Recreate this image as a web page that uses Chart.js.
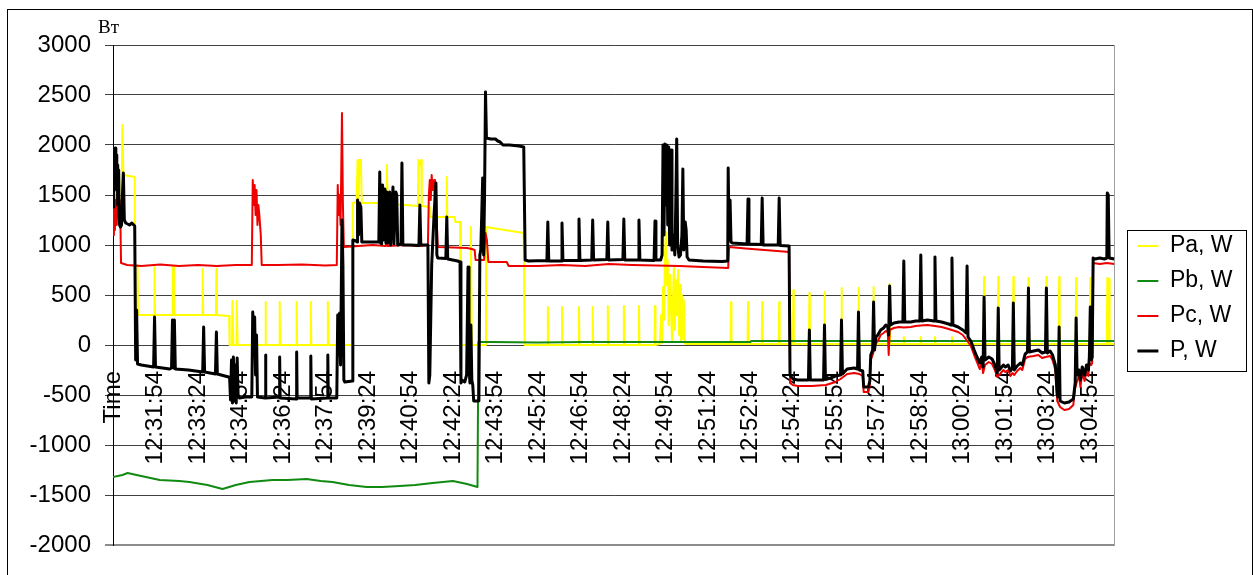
<!DOCTYPE html>
<html>
<head>
<meta charset="utf-8">
<script src="https://cdn.jsdelivr.net/npm/chart.js@4.4.1/dist/chart.umd.min.js"></script>
<style>
  body { margin: 0; background: #fff; }
  #wrap { position: relative; width: 1253px; height: 575px; }
  #frame { position: absolute; left: 7px; top: 9px; width: 1244px; height: 600px; border: 1px solid #000; pointer-events: none; }
  canvas { display: block; }
</style>
</head>
<body>
<div id="wrap">
  <canvas id="myChart" width="1253" height="575"></canvas>
  <div id="frame"></div>
</div>
<script>
// time axis: seconds after 12:30:24 ("Time" header sits at 0), one label every 90 s
const tickLabels = ['Time', '12:31:54', '12:33:24', '12:34:54', '12:36:24', '12:37:54', '12:39:24', '12:40:54',
  '12:42:24', '12:43:54', '12:45:24', '12:46:54', '12:48:24', '12:49:54', '12:51:24', '12:52:54',
  '12:54:24', '12:55:54', '12:57:24', '12:58:54', '13:00:24', '13:01:54', '13:03:24', '13:04:54'];
const tickStep = 90;
const xEnd = 2121;

const seriesNames = ['Pa, W', 'Pb, W', 'Pc, W', 'P, W'];

// [seconds, W]
const paPts = [
  [0,1200],[5,1500],[12,1250],[18,1400],[20,2200],[22,1700],[46,1680],[47,300],[51,300],[52,800],[53,300],
  [87,300],[88,780],[89,300],[125,300],[126,790],[127,300],[129,790],[130,300],
  [189,300],[190,760],[191,300],[218,300],[219,760],[220,300],[246,290],[247,0],
  [252,0],[253,440],[255,0],[261,0],[262,440],[264,0],
  [322,0],[323,430],[324,0],[352,0],[353,430],[354,0],[388,0],[389,430],[390,0],
  [418,0],[419,430],[420,0],[454,0],[455,430],[456,0],[507,0],
  [508,1420],[516,1430],[518,1850],[520,1450],[522,1850],[525,1850],[527,1420],
  [560,1420],[579,1410],[580,1800],[582,1410],[620,1400],[646,1390],[647,1850],[650,1800],[653,1850],[654,1390],
  [670,1380],[671,1280],[706,1280],[707,1680],[708,1280],[724,1280],[725,1230],[735,1230],[737,0],
  [757,0],[758,1180],[760,0],[789,0],[790,1180],[830,1150],[870,1120],[872,0],
  [920,0],[921,380],[922,0],[950,0],[951,380],[952,0],[986,0],[987,380],[988,0],[1015,0],[1016,380],[1017,0],
  [1047,0],[1048,390],[1049,0],[1081,0],[1082,390],[1083,0],[1113,0],[1114,390],[1115,0],[1147,0],[1148,390],[1149,0],
  [1158,10],[1161,300],[1163,20],[1165,580],[1167,250],[1169,900],[1171,1130],[1173,600],[1175,850],[1177,200],
  [1180,700],[1182,350],[1184,50],[1186,450],[1188,780],[1190,150],[1192,650],[1194,300],[1197,750],[1199,100],
  [1201,600],[1203,40],[1205,500],[1207,60],[1209,450],[1211,20],[1213,10],
  [1308,10],[1309,430],[1310,10],[1344,10],[1345,430],[1346,10],[1374,10],[1375,430],[1376,10],[1410,10],[1411,430],[1412,10],
  [1440,10],[1441,550],[1442,10],[1474,10],[1475,520],[1476,10],[1506,10],[1507,530],[1508,10],[1542,10],[1543,570],[1544,10],
  [1578,10],[1579,570],[1580,10],[1610,10],[1611,580],[1612,10],[1644,10],[1645,610],[1646,10],
  [1674,10],[1675,80],[1676,10],[1710,10],[1711,80],[1712,10],[1740,10],[1741,80],[1742,10],[1776,10],[1777,80],[1778,10],
  [1844,10],[1845,680],[1846,10],[1874,10],[1875,680],[1876,10],[1906,10],[1907,680],[1908,10],[1938,10],[1939,670],[1940,10],
  [1976,10],[1977,680],[1978,10],[2003,10],[2004,680],[2005,10],[2039,10],[2040,670],[2041,10],[2069,10],[2070,670],[2071,10],
  [2105,10],[2106,670],[2107,10],[2109,10],[2110,660],[2111,10],[2121,10]
];

const pbPts = [
  [0,-1320],[20,-1300],[31,-1280],[50,-1300],[99,-1350],[140,-1360],[162,-1370],[200,-1400],[232,-1440],
  [260,-1400],[289,-1370],[338,-1350],[370,-1350],[410,-1340],[440,-1360],[465,-1370],[500,-1400],
  [537,-1420],[570,-1420],[607,-1410],[640,-1400],[677,-1380],[720,-1360],[750,-1390],[772,-1420],
  [774,30],[800,30],[900,25],[1000,30],[1100,30],[1200,30],[1350,30],[1352,40],[1500,40],[1700,40],[1900,40],[2121,40]
];

const pcPts = [
  [0,1100],[2,1500],[4,1150],[6,1450],[8,1200],[10,1550],[12,1300],[14,1450],[16,1150],[17,820],
  [30,800],[60,790],[100,805],[140,790],[180,800],[220,790],[260,800],[294,800],
  [296,1650],[298,1400],[300,1600],[302,1300],[304,1550],[306,1200],[308,1400],[310,1300],[313,1100],[315,800],
  [350,800],[400,805],[450,795],[474,800],[476,1600],[478,1300],[480,1500],[482,1200],[485,2320],[487,1400],[489,980],
  [520,990],[550,1000],[578,990],[580,1180],[582,990],[620,1000],[650,990],[667,1000],
  [669,1500],[671,1650],[673,1450],[675,1700],[677,1550],[680,1650],[682,1400],[684,1600],[686,1200],[688,980],
  [720,975],[750,970],[760,960],[766,950],[768,850],[786,850],[789,1120],[792,1050],[795,830],
  [834,830],[838,790],[900,790],[950,800],[1000,790],[1050,810],[1100,800],[1150,795],[1200,790],[1250,780],[1303,770],
  [1305,980],[1340,965],[1380,950],[1420,935],[1432,930],
  [1434,-380],[1440,-400],[1450,-410],[1480,-410],[1510,-400],[1530,-370],[1541,-340],[1555,-290],[1570,-280],
  [1581,-290],[1588,-310],[1590,-470],[1600,-470],[1603,-400],[1605,-150],[1609,-100],[1616,20],[1620,40],
  [1626,100],[1632,120],[1637,140],[1641,130],[1643,-100],[1645,150],[1654,170],[1665,180],[1675,175],
  [1690,180],[1700,190],[1711,195],[1725,200],[1741,190],[1755,180],[1770,160],[1790,130],[1800,100],
  [1811,30],[1817,-10],[1824,-100],[1830,-170],[1836,-240],[1840,-170],[1843,-280],[1847,-200],[1855,-170],
  [1862,-190],[1866,-230],[1870,-280],[1873,-320],[1877,-300],[1886,-250],[1890,-270],[1896,-250],[1901,-310],
  [1905,-280],[1909,-300],[1915,-260],[1922,-230],[1926,-250],[1932,-140],[1937,-120],[1950,-110],[1960,-100],
  [1968,-130],[1975,-120],[1985,-110],[1990,-150],[1996,-250],[2000,-560],[2006,-620],[2015,-650],[2025,-640],
  [2034,-600],[2038,-430],[2042,-360],[2046,-300],[2049,-420],[2053,-280],[2058,-360],[2062,-260],[2066,-310],
  [2068,-180],[2072,-200],[2074,-180],[2076,820],[2090,810],[2105,820],[2121,810]
];

const pPts = [
  [0,1380],[1,1700],[2,1500],[3,1900],[4,1600],[5,1970],[6,1700],[7,1900],[8,1550],[9,1800],[10,1400],
  [12,1750],[13,1300],[14,1200],[16,1180],[18,1200],[20,1500],[22,1720],[24,1250],[27,1220],[35,1200],
  [40,1220],[44,1200],[46,1190],[48,-150],[50,350],[52,-190],[60,-200],
  [86,-220],[88,280],[90,-220],[120,-240],[124,-230],[126,250],[128,-230],[130,250],[132,-240],
  [160,-250],[190,-270],[192,180],[194,-270],[217,-290],[219,130],[221,-290],[245,-320],
  [247,-330],[249,-550],[251,-150],[253,-580],[255,-120],[257,-560],[259,-200],[261,-580],[263,-130],[265,-500],
  [268,-530],[280,-520],[294,-520],[296,330],[298,-100],[300,280],[302,-300],[304,100],[306,-520],
  [322,-530],[323,-100],[324,-530],[352,-520],[353,-120],[354,-530],[388,-540],[389,-70],[390,-530],
  [418,-530],[419,-110],[420,-540],[454,-530],[455,-100],[456,-530],[474,-530],
  [476,300],[478,-100],[480,320],[482,-200],[485,1250],[487,800],[489,-350],[491,-370],[507,-360],
  [508,1050],[515,1040],[517,1030],[518,1450],[520,1100],[522,1420],[525,1380],[527,1030],[550,1030],
  [563,1030],[565,1730],[567,1020],[569,1010],[571,1600],[573,1050],[576,1560],[578,1020],[580,1530],[582,1020],
  [586,1530],[588,1000],[593,1580],[595,1010],[599,1530],[601,1500],[603,1000],[610,1010],[612,1820],[614,1000],
  [630,1000],[648,995],[650,1400],[652,1000],[667,1000],[669,-380],[671,-300],[675,800],[680,1300],[684,1620],
  [686,900],[688,870],[705,865],[707,1280],[709,860],[730,840],[735,830],[737,-380],[739,-350],[745,-370],
  [749,-300],[752,780],[754,-200],[756,-380],[758,200],[760,-350],[762,-400],[764,-560],[775,-560],
  [777,900],[779,950],[781,1300],[783,1670],[785,900],[787,1500],[789,2530],[791,2070],[800,2060],[810,2060],
  [815,2040],[820,2030],[826,2000],[840,2000],[860,1990],[870,1980],[873,850],
  [880,840],[917,845],[919,840],[921,1230],[923,840],[949,840],[951,1220],[953,845],[985,845],[987,1260],[989,845],
  [1014,850],[1016,1250],[1018,850],[1046,855],[1048,1230],[1050,850],[1080,855],[1082,1260],[1084,850],
  [1112,850],[1114,1250],[1116,850],[1146,845],[1148,1240],[1150,850],[1160,850],
  [1163,900],[1165,2000],[1167,1100],[1169,2010],[1171,1400],[1173,2000],[1175,1200],[1177,1980],[1179,1000],
  [1182,1950],[1184,950],[1187,1100],[1190,900],[1192,1400],[1194,2060],[1196,1000],[1199,880],[1202,900],
  [1205,1100],[1207,1760],[1209,950],[1212,1230],[1214,1150],[1216,880],[1220,850],[1250,840],[1290,835],[1302,840],
  [1303,1770],[1305,1050],[1307,1450],[1309,1030],[1312,1020],[1343,1010],[1345,1460],[1347,1010],
  [1373,1005],[1375,1470],[1377,1000],[1409,1000],[1411,1470],[1413,995],[1432,990],
  [1434,-300],[1440,-340],[1450,-350],[1473,-350],[1475,150],[1477,-350],[1505,-350],[1507,200],[1509,-345],
  [1520,-330],[1530,-310],[1541,-300],[1543,250],[1545,-290],[1555,-240],[1570,-230],[1577,-240],[1579,330],
  [1581,-250],[1588,-260],[1590,-420],[1600,-420],[1603,-360],[1605,-100],[1609,-50],[1611,430],[1613,-50],
  [1616,80],[1620,100],[1626,150],[1632,170],[1637,200],[1641,180],[1643,100],[1645,590],[1647,200],[1654,220],
  [1665,230],[1673,230],[1675,840],[1677,230],[1690,230],[1700,240],[1709,240],[1711,900],[1713,240],
  [1725,250],[1739,240],[1741,880],[1743,240],[1755,230],[1770,210],[1775,200],[1777,870],[1779,200],
  [1790,180],[1800,150],[1807,120],[1809,790],[1811,80],[1817,40],[1824,-50],[1830,-120],[1836,-180],
  [1840,-120],[1843,-220],[1845,480],[1847,-150],[1855,-120],[1862,-140],[1866,-180],[1870,-230],[1873,-280],
  [1875,370],[1877,-250],[1886,-200],[1890,-220],[1896,-200],[1901,-260],[1905,-230],[1907,420],[1909,-250],
  [1915,-210],[1922,-180],[1926,-200],[1932,-90],[1937,-70],[1939,570],[1941,-70],[1950,-60],[1960,-50],
  [1968,-80],[1975,-70],[1977,570],[1979,-80],[1985,-60],[1990,-100],[1996,-200],[2000,-500],[2002,-520],
  [2004,180],[2006,-560],[2015,-580],[2025,-570],[2034,-540],[2038,-380],[2040,270],[2042,-300],[2046,-250],
  [2049,-350],[2053,-220],[2058,-300],[2062,-200],[2066,-250],[2068,-120],[2070,380],[2072,-150],[2074,-120],
  [2076,870],[2080,860],[2090,870],[2100,860],[2105,870],[2106,1520],[2108,1500],[2110,870],[2121,860]
];

function toXY(pts) {
    return pts.map(function(p) {
        return { x: p[0], y: p[1] };
    });
}

const unitLabel = {
    id: 'unitLabel',
    afterDraw(chart) {
        const ctx = chart.ctx;
        const area = chart.chartArea;
        ctx.save();
        ctx.font = '19px "Liberation Serif", serif';
        ctx.fillStyle = '#000';
        ctx.textBaseline = 'alphabetic';
        ctx.fillText('Вт', area.left - 15, area.top - 12);

        // frame round the legend
        const boxes = chart.legend.legendHitBoxes;
        if (boxes && boxes.length) {
            const first = boxes[0];
            const last = boxes[boxes.length - 1];
            const left = first.left - 10.5;
            const top = first.top - 5;
            ctx.strokeStyle = '#000';
            ctx.lineWidth = 1;
            ctx.strokeRect(Math.round(left) + 0.5, Math.round(top) + 0.5, 119, Math.round(last.top + last.height + 8 - top));
        }
        ctx.restore();
    }
};

const ctx = document.getElementById('myChart').getContext('2d');

const chart = new Chart(ctx, {
    type: 'line',
    data: {
        datasets: [
            { label: seriesNames[0], data: toXY(paPts), borderColor: '#ffff00', borderWidth: 2, order: 4 },
            { label: seriesNames[1], data: toXY(pbPts), borderColor: '#118a11', borderWidth: 2, order: 3 },
            { label: seriesNames[2], data: toXY(pcPts), borderColor: '#ee0000', borderWidth: 2, order: 2 },
            { label: seriesNames[3], data: toXY(pPts), borderColor: '#000000', borderWidth: 3, order: 1 }
        ]
    },
    options: {
        responsive: false,
        animation: false,
        events: [],
        devicePixelRatio: 1,
        elements: {
            point: { radius: 0 },
            line: { tension: 0, borderJoinStyle: 'round' }
        },
        layout: {
            padding: { left: 0, top: 45, right: 10.5, bottom: 30 }
        },
        scales: {
            x: {
                type: 'linear',
                min: 0,
                max: xEnd,
                position: { y: 0 },
                grid: { display: false },
                border: { display: false },
                afterBuildTicks: function(scale) {
                    scale.ticks = tickLabels.map(function(lbl, i) {
                        return { value: i * tickStep };
                    });
                },
                ticks: {
                    autoSkip: false,
                    minRotation: 90,
                    maxRotation: 90,
                    padding: 18,
                    color: '#000',
                    font: { family: 'Liberation Sans', size: 24 },
                    callback: function(value, index) {
                        return tickLabels[index];
                    }
                }
            },
            y: {
                min: -2000,
                max: 3000,
                afterFit: function(scale) {
                    scale.width = 113;
                },
                grid: {
                    color: function(c) { return c.tick && c.tick.value === -2000 ? '#8c8c8c' : '#404040'; },
                    lineWidth: function(c) { return c.tick && c.tick.value === -2000 ? 2 : 1; },
                    tickLength: 8
                },
                border: { display: true, color: '#000', width: 1 },
                ticks: {
                    stepSize: 500,
                    padding: 14,
                    color: '#000',
                    font: { family: 'Liberation Sans', size: 24 },
                    callback: function(value) {
                        return String(value);
                    }
                }
            },
            y2: {
                position: 'right',
                afterFit: function(scale) {
                    scale.width = 11;
                },
                grid: { display: false, drawTicks: false },
                border: { display: true, color: '#a0a0a0', width: 1 },
                ticks: { display: false }
            }
        },
        plugins: {
            tooltip: { enabled: false },
            legend: {
                position: 'right',
                title: { display: true, text: ' ', padding: 0, font: { size: 6 } },
                labels: {
                    usePointStyle: true,
                    pointStyle: 'line',
                    pointStyleWidth: 21,
                    padding: 12,
                    color: '#000',
                    font: { family: 'Liberation Sans', size: 23 },
                    sort: function(a, b) {
                        return a.datasetIndex - b.datasetIndex;
                    }
                }
            }
        }
    },
    plugins: [unitLabel]
});
</script>
</body>
</html>
